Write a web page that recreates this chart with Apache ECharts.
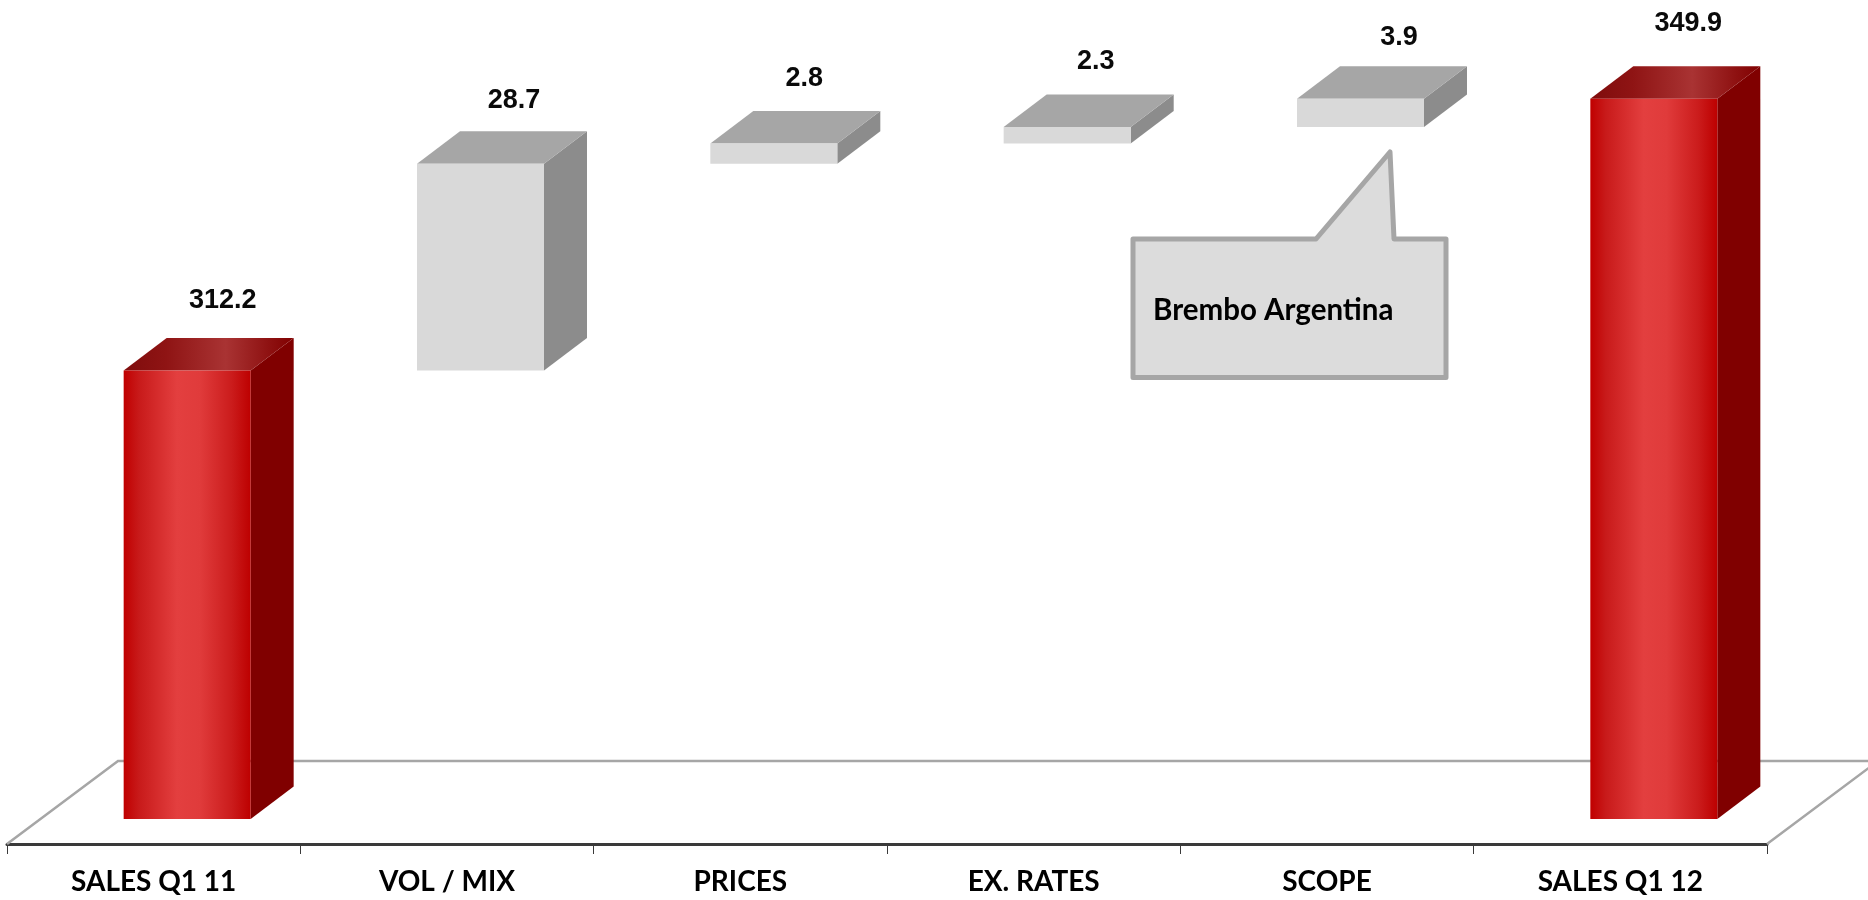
<!DOCTYPE html>
<html>
<head>
<meta charset="utf-8">
<style>html,body{margin:0;padding:0;background:#fff}#c{width:1868px;height:900px}</style>
<script src="https://cdn.jsdelivr.net/npm/echarts@6/dist/echarts.min.js"></script>
</head>
<body>
<div id="c"></div>
<script>
const categories = ['SALES Q1 11', 'VOL / MIX', 'PRICES', 'EX. RATES', 'SCOPE', 'SALES Q1 12'];
const values = [312.2, 28.7, 2.8, 2.3, 3.9, 349.9];
const bases = [0, 312.2, 340.9, 343.7, 346.0, 0];
const isTotal = [true, false, false, false, false, true];
const noteText = 'Brembo Argentina';

const AXIS_MIN = 250, AXIS_MAX = 363.6;
const FRONT_W = 127, DEPTH_X = 43, DEPTH_Y = 32.5, SHIFT_X = 33.5, FLOOR_DROP = 25;
const LABEL_LIFT = [38, 31, 32, 33, 29, 43];
const LABEL_SHIFT = [69, 67, 64, 62, 72, 68];

const redFront = {type:'linear',x:0,y:0,x2:1,y2:0,colorStops:[
  {offset:0,color:'#c00000'},{offset:.12,color:'#c81a1a'},{offset:.42,color:'#e33f3f'},
  {offset:.6,color:'#e03b3b'},{offset:.85,color:'#cb1c1c'},{offset:1,color:'#bd0000'}]};
const redTop = {type:'linear',x:0,y:0,x2:1,y2:0,colorStops:[
  {offset:0,color:'#7f0c0c'},{offset:.25,color:'#8f1414'},{offset:.6,color:'#a93333'},
  {offset:.85,color:'#8f1212'},{offset:1,color:'#800000'}]};

function renderBar(params, api) {
  const i = api.value(0), b = api.value(1), v = api.value(2);
  const low = Math.max(b, AXIS_MIN), high = b + v;
  const center = api.coord([i, low])[0];
  const c = center + SHIFT_X;
  const yLow = api.coord([i, low])[1], yHigh = api.coord([i, high])[1];
  const l = c - FRONT_W / 2, r = c + FRONT_W / 2;
  const total = isTotal[i];
  const poly = (points, fill) => ({type:'polygon', shape:{points}, style:{fill, stroke:null}});
  return {type:'group', children:[
    poly([[r,yHigh],[r+DEPTH_X,yHigh-DEPTH_Y],[r+DEPTH_X,yLow-DEPTH_Y],[r,yLow]], total?'#800000':'#8c8c8c'),
    poly([[l,yHigh],[l+DEPTH_X,yHigh-DEPTH_Y],[r+DEPTH_X,yHigh-DEPTH_Y],[r,yHigh]], total?redTop:'#a6a6a6'),
    poly([[l,yLow],[l,yHigh],[r,yHigh],[r,yLow]], total?redFront:'#d9d9d9'),
    {type:'text', style:{
      text:values[i].toFixed(1), x:center+LABEL_SHIFT[i], y:yHigh-DEPTH_Y-LABEL_LIFT[i],
      fill:'#0a0a0a', font:'bold 27px "Liberation Sans", Arial, sans-serif', align:'center', verticalAlign:'middle'}}
  ]};
}

function renderFloor(params) {
  const s = params.coordSys;
  const y = s.y + s.height + FLOOR_DROP;
  const back = y - 83, run = 111;
  return {type:'polyline', shape:{points:[[s.x,y],[s.x+run,back],[s.x+s.width+run,back],[s.x+s.width,y]]},
    style:{fill:null, stroke:'#a6a6a6', lineWidth:2.5}};
}

const chart = echarts.init(document.getElementById('c'));
chart.setOption({
  animation:false,
  backgroundColor:'#fff',
  grid:{left:7,right:101,top:0,bottom:81,containLabel:false},
  xAxis:{type:'category',data:categories,offset:FLOOR_DROP,
    axisLine:{show:true,lineStyle:{color:'#3a3a3a',width:3}},
    axisTick:{show:true,alignWithLabel:false,length:10,lineStyle:{color:'#3a3a3a',width:1}},
    axisLabel:{interval:0,color:'#000',fontFamily:'Lato',fontWeight:'bold',fontSize:28,margin:24},
    splitLine:{show:false}},
  yAxis:{type:'value',min:AXIS_MIN,max:AXIS_MAX,show:false,splitLine:{show:false}},
  series:[
    {type:'custom',z:1,clip:false,silent:true,renderItem:renderFloor,data:[[0,AXIS_MIN]],encode:{x:0,y:1}},
    {type:'custom',z:2,clip:false,silent:true,renderItem:renderBar,
      data:categories.map((c,i)=>[i,bases[i],values[i]]),encode:{x:0,y:[1,2]}}
  ],
  graphic:[
    {type:'polygon',z:10,shape:{points:[[1133,239],[1316,239],[1390,152],[1394,239],[1446,239],[1446,377.5],[1133,377.5]]},
      style:{fill:'#dcdcdc',stroke:'#a6a6a6',lineWidth:5,lineJoin:'round'}},
    {type:'text',z:11,style:{text:noteText,x:1153,y:310,fill:'#000',
      font:'bold 29.5px Lato',align:'left',verticalAlign:'middle'}}
  ]
});
</script>
</body>
</html>
